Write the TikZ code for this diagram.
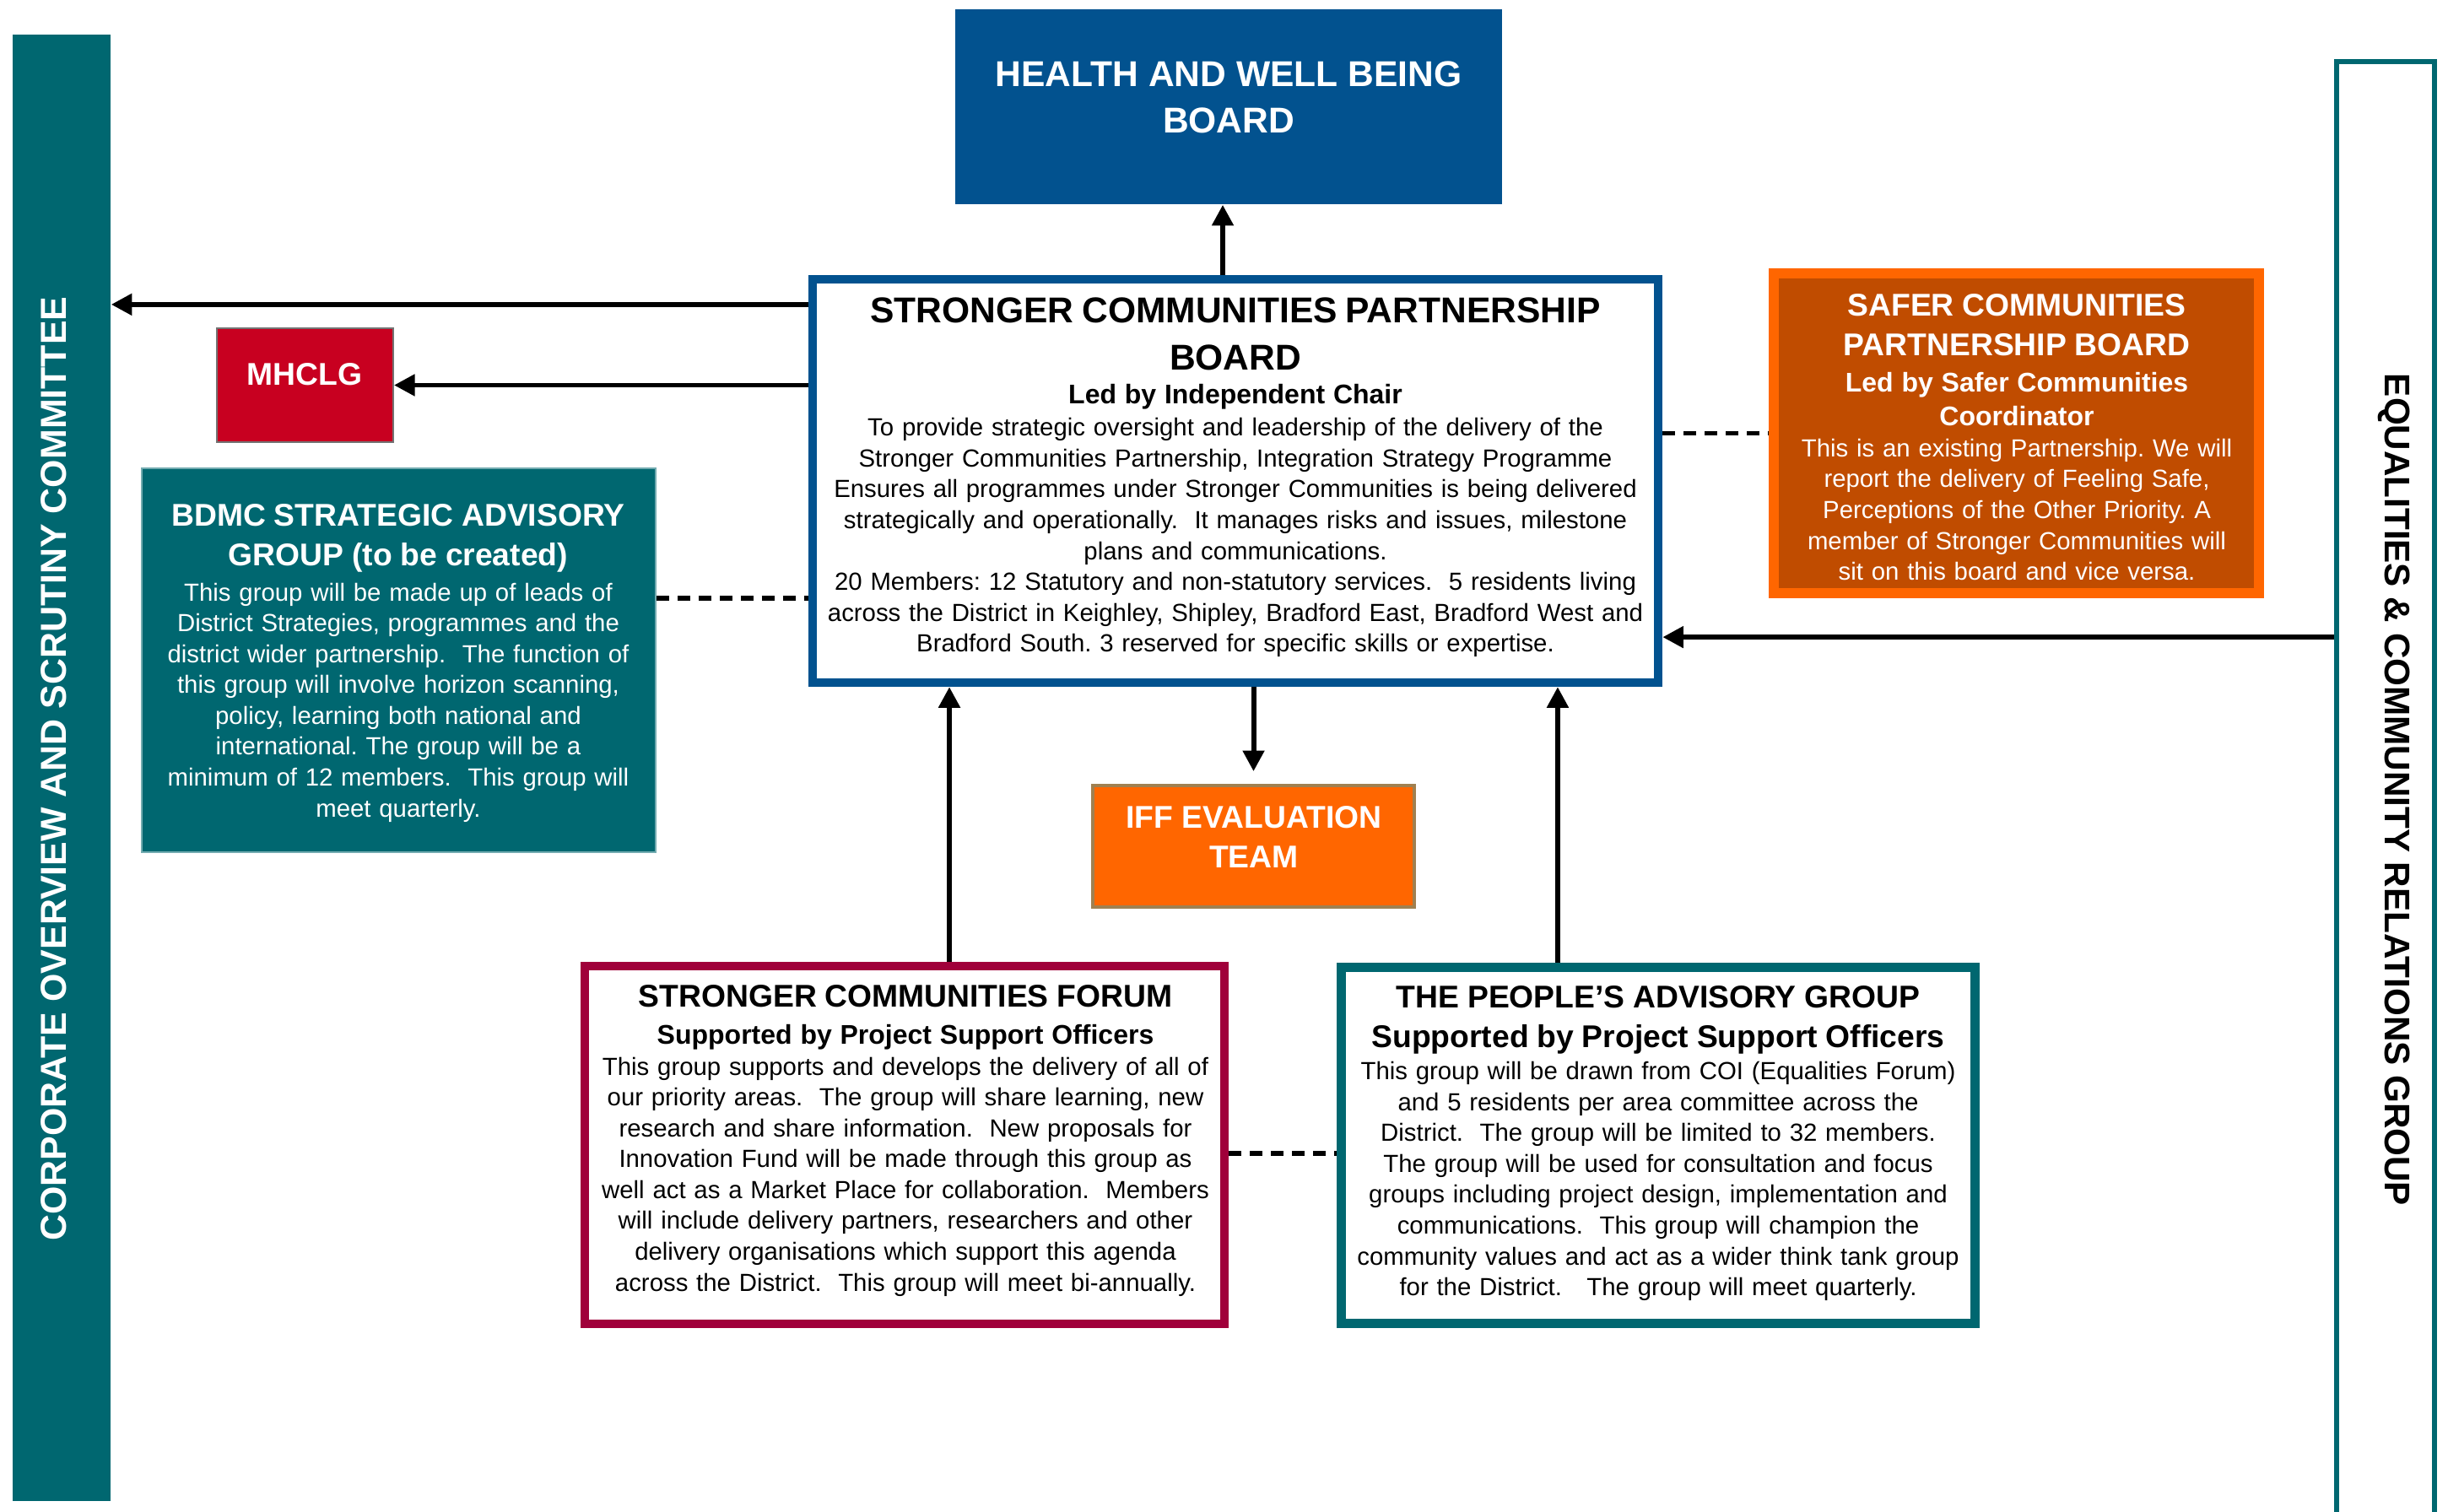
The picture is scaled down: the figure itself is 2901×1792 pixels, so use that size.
\documentclass[tikz,border=0pt]{standalone}
\usepackage{fontspec}
\setmainfont{Liberation Sans}
\usetikzlibrary{arrows.meta, positioning, calc}
\setlength{\parindent}{0pt}
\frenchspacing

\definecolor{boardblue}{RGB}{2,82,143}
\definecolor{deepteal}{RGB}{0,103,112}
\definecolor{govred}{RGB}{200,0,32}
\definecolor{safeorange}{RGB}{255,102,0}
\definecolor{safebrown}{RGB}{192,76,0}
\definecolor{forumred}{RGB}{160,0,58}
\definecolor{iffedge}{RGB}{160,128,80}

\newcommand{\hugehead}{\fontsize{12.1}{15.7}\selectfont\bfseries}
\newcommand{\midhead}{\fontsize{10.6}{13.4}\selectfont\bfseries}
\newcommand{\leadhead}{\fontsize{9.1}{11.4}\selectfont\bfseries}

\tikzset{
  body_font/.style = {font=\fontsize{8.35}{10.4}\selectfont},
  bar_font/.style = {font=\fontsize{12.2}{14}\selectfont\bfseries},
  solid_box/.style = {rectangle, inner sep=0},
  framed_box/.style = {rectangle, draw, fill=white, inner sep=0},
  box_text/.style = {body_font, align=center, inner sep=0},
  light_text/.style = {box_text, text=white},
  dark_text/.style = {box_text, text=black}
}
\tikzset{
  report_arrow/.style = {line width=1.7pt, -{Triangle[length=7pt, width=7pt]}},
  liaison_line/.style = {line width=1.7pt, dash pattern=on 4.3pt off 2.8pt}
}

\begin{document}
\begin{tikzpicture}[x=0.01cm, y=-0.01cm]
        \useasboundingbox (0,0) rectangle (2901,1792);

        % Side bars
        \node[solid_box, fill=deepteal, minimum width=1.16cm, minimum height=17.36cm] at (73,910) (cosc) {};
        \node[bar_font, text=white, rotate=90, inner sep=0] at (64,911) (cosc_text) {
            CORPORATE OVERVIEW AND SCRUTINY COMMITTEE};
        \node[framed_box, draw=deepteal, fill=none, line width=0.06cm, minimum width=1.16cm, minimum height=17.76cm] at (2827,962) (ecrg) {};
        \node[bar_font, font=\fontsize{12}{14}\selectfont\bfseries, rotate=-90, inner sep=0] at (2837,936) (ecrg_text) {
            EQUALITIES \& COMMUNITY RELATIONS GROUP};

        % Boards
        \node[solid_box, fill=boardblue, minimum width=6.48cm, minimum height=2.31cm] at (1456,126.5) (hwb) {};
        \node[light_text, font=\hugehead] at (1456,115) (hwb_text) {
            HEALTH AND WELL BEING\\ BOARD};

        \node[framed_box, draw=boardblue, line width=0.1cm, minimum width=10.02cm, minimum height=4.78cm] at (1464,570) (scpb) {};
        \node[dark_text, text width=9.9cm] at (1464,566) (scpb_text) {
            {\hugehead STRONGER COMMUNITIES PARTNERSHIP\\ BOARD\par}
            {\leadhead Led by Independent Chair\par}
            \vspace{0.6pt}
            To provide strategic oversight and leadership of the delivery of the\\
            Stronger Communities Partnership, Integration Strategy Programme\\
            Ensures all programmes under Stronger Communities is being delivered\\
            strategically and operationally.\ \ It manages risks and issues, milestone\\
            plans and communications.\\
            20 Members: 12 Statutory and non-statutory services.\ \ 5 residents living\\
            across the District in Keighley, Shipley, Bradford East, Bradford West and\\
            Bradford South. 3 reserved for specific skills or expertise.
            };

        \node[solid_box, fill=govred, draw=black!55, line width=0.5pt, minimum width=2.09cm, minimum height=1.35cm] at (361.5,456.5) (mhclg) {};
        \node[light_text, font=\midhead] at (361,444) (mhclg_text) {MHCLG};

        \node[solid_box, fill=deepteal, draw=deepteal!55, line width=0.4pt, minimum width=6.09cm, minimum height=4.55cm] at (472.5,782.5) (bdmc) {};
        \node[light_text, text width=5.9cm] at (472,786) (bdmc_text) {
            {\midhead BDMC STRATEGIC ADVISORY\\ GROUP (to be created)\par}
            \vspace{1.3pt}
            This group will be made up of leads of\\
            District Strategies, programmes and the\\
            district wider partnership.\ \ The function of\\
            this group will involve horizon scanning,\\
            policy, learning both national and\\
            international. The group will be a\\
            minimum of 12 members.\ \ This group will\\
            meet quarterly.
            };

        \node[solid_box, fill=safebrown, draw=safeorange, line width=0.12cm, minimum width=5.75cm, minimum height=3.79cm] at (2389.5,513.5) (safer) {};
        \node[light_text, text width=5.6cm] at (2390,518) (safer_text) {
            {\midhead SAFER COMMUNITIES\\ PARTNERSHIP BOARD\par}
            \vspace{1pt}
            {\leadhead Led by Safer Communities\\ Coordinator\par}
            This is an existing Partnership. We will\\
            report the delivery of Feeling Safe,\\
            Perceptions of the Other Priority. A\\
            member of Stronger Communities will\\
            sit on this board and vice versa.
            };

        \node[solid_box, fill=safeorange, draw=iffedge, line width=1pt, minimum width=3.81cm, minimum height=1.44cm] at (1485.5,1003) (iff) {};
        \node[light_text, font=\midhead] at (1486,992) (iff_text) {
            IFF EVALUATION\\ TEAM};

        % Groups
        \node[framed_box, draw=forumred, line width=0.1cm, minimum width=7.58cm, minimum height=4.24cm] at (1072,1357) (forum) {};
        \node[dark_text, text width=7.5cm] at (1073,1352) (forum_text) {
            {\midhead STRONGER COMMUNITIES FORUM\par}
            \vspace{1pt}
            {\leadhead Supported by Project Support Officers\par}
            This group supports and develops the delivery of all of\\
            our priority areas.\ \ The group will share learning, new\\
            research and share information.\ \ New proposals for\\
            Innovation Fund will be made through this group as\\
            well act as a Market Place for collaboration.\ \ Members\\
            will include delivery partners, researchers and other\\
            delivery organisations which support this agenda\\
            across the District.\ \ This group will meet bi-annually.
            };

        \node[framed_box, draw=deepteal, line width=0.11cm, minimum width=7.51cm, minimum height=4.22cm] at (1965,1357.5) (people) {};
        \node[dark_text, text width=7.4cm] at (1965,1355) (people_text) {
            {\midhead THE PEOPLE'S ADVISORY GROUP\\ Supported by Project Support Officers\par}
            \vspace{0.5pt}
            This group will be drawn from COI (Equalities Forum)\\
            and 5 residents per area committee across the\\
            District.\ \ The group will be limited to 32 members.\\
            The group will be used for consultation and focus\\
            groups including project design, implementation and\\
            communications.\ \ This group will champion the\\
            community values and act as a wider think tank group\\
            for the District.\ \ \ The group will meet quarterly.
            };

        % Arrows and lines
        \coordinate (hwb_in) at ([xshift=-0.07cm]hwb.south);
        \draw[report_arrow] (hwb_in |- scpb.north) -- (hwb_in);

        \coordinate (cosc_in) at ([yshift=-0.35cm]scpb.north west);
        \draw[report_arrow] (cosc_in) -- (cosc_in -| cosc.east);
        \draw[report_arrow] (mhclg.east -| scpb.west) -- (mhclg.east);

        \coordinate (bdmc_out) at ([yshift=0.735cm]bdmc.east);
        \draw[liaison_line] (bdmc_out) -- (bdmc_out -| scpb.west);
        \draw[liaison_line] (scpb.east |- safer.west) -- (safer.west);

        \coordinate (ecrg_out) at ([yshift=-1.85cm]scpb.east);
        \draw[report_arrow] (ecrg_out -| ecrg.west) -- (ecrg_out);

        \draw[report_arrow, shorten >=0.15cm] (scpb.south -| iff.north) -- (iff.north);

        \coordinate (forum_up) at ([xshift=0.53cm]forum.north);
        \draw[report_arrow] (forum_up) -- (forum_up |- scpb.south);
        \coordinate (people_up) at ([xshift=-1.19cm]people.north);
        \draw[report_arrow] (people_up) -- (people_up |- scpb.south);

        \coordinate (forum_side) at ([yshift=-0.1cm]forum.east);
        \draw[liaison_line] (forum_side) -- (forum_side -| people.west);
\end{tikzpicture}
\end{document}
